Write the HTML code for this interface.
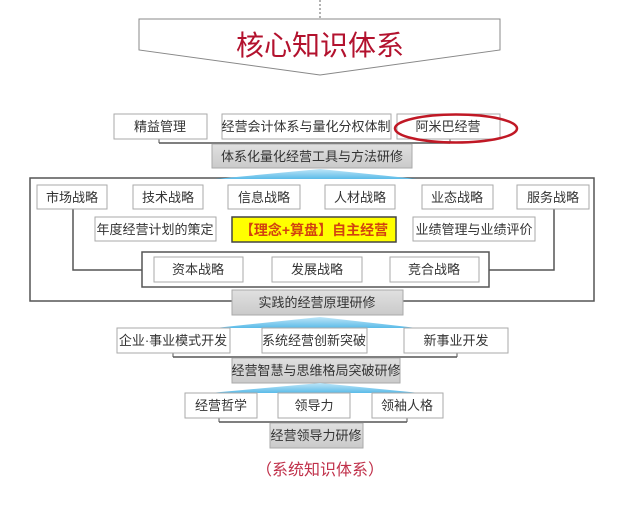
<!DOCTYPE html>
<html><head><meta charset="utf-8"><style>
html,body{margin:0;padding:0;background:#fff;}
svg text{font-family:"Liberation Sans","Noto Sans CJK SC",sans-serif;}
</style></head><body>
<svg width="640" height="507" viewBox="0 0 640 507" xmlns="http://www.w3.org/2000/svg">
<defs>
<linearGradient id="bl" x1="0" y1="1" x2="0" y2="0">
<stop offset="0" stop-color="#5bbbe8"/><stop offset="1" stop-color="#bfe6f8"/>
</linearGradient>
<linearGradient id="gr" x1="0" y1="0" x2="0" y2="1">
<stop offset="0" stop-color="#e0e0e0"/><stop offset="1" stop-color="#cacaca"/>
</linearGradient>
</defs>
<line x1="320" y1="0" x2="320" y2="19" stroke="#666" stroke-dasharray="2,2"/>
<polygon points="139,19 500,19 500,50 320,75 139,50" fill="#fff" stroke="#888" stroke-width="1"/>
<text x="320" y="55" font-size="28" fill="#b3122e" text-anchor="middle">核心知识体系</text>

<g font-size="13" fill="#333" text-anchor="middle">
<line x1="159" y1="139" x2="159" y2="143" stroke="#555"/>
<line x1="159" y1="143" x2="450" y2="143" stroke="#555" stroke-width="1.5"/>
<line x1="450" y1="139" x2="450" y2="143" stroke="#555"/>
<rect x="114" y="114" width="93" height="25" fill="#fff" stroke="#aaa"/><text x="160" y="131">精益管理</text>
<rect x="222" y="114" width="169" height="25" fill="#fff" stroke="#aaa"/><text x="306" y="131">经营会计体系与量化分权体制</text>
<rect x="397" y="114" width="103" height="25" fill="#fff" stroke="#aaa"/><text x="448" y="131">阿米巴经营</text>
<ellipse cx="456" cy="128.5" rx="61" ry="14" fill="none" stroke="#c01825" stroke-width="2.5"/>
<rect x="212" y="144" width="200" height="24" fill="url(#gr)" stroke="#aaa"/><text x="312" y="161">体系化量化经营工具与方法研修</text>

<rect x="30" y="178" width="564" height="123" fill="#fff" stroke="#555" stroke-width="1.5"/>
<polygon points="215,179 320,169 417,179" fill="url(#bl)"/>
<polyline points="73,209 73,270 142,270" fill="none" stroke="#555" stroke-width="1.5"/>
<polyline points="554,209 554,270 489,270" fill="none" stroke="#555" stroke-width="1.5"/>
<rect x="37" y="185" width="70" height="24" fill="#fff" stroke="#aaa"/><text x="72" y="202">市场战略</text>
<rect x="133" y="185" width="70" height="24" fill="#fff" stroke="#aaa"/><text x="168" y="202">技术战略</text>
<rect x="228" y="185" width="72" height="24" fill="#fff" stroke="#aaa"/><text x="264" y="202">信息战略</text>
<rect x="325" y="185" width="70" height="24" fill="#fff" stroke="#aaa"/><text x="360" y="202">人材战略</text>
<rect x="422" y="185" width="71" height="24" fill="#fff" stroke="#aaa"/><text x="457" y="202">业态战略</text>
<rect x="517" y="185" width="72" height="24" fill="#fff" stroke="#aaa"/><text x="553" y="202">服务战略</text>
<rect x="95" y="217" width="121" height="24" fill="#fff" stroke="#aaa"/><text x="155" y="234">年度经营计划的策定</text>
<rect x="232" y="217" width="164" height="25" fill="#ffff00" stroke="#444" stroke-width="1.5"/><text x="314" y="235" fill="#d2420f" font-size="14" font-weight="bold">【理念+算盘】自主经营</text>
<rect x="413" y="217" width="122" height="24" fill="#fff" stroke="#aaa"/><text x="474" y="234">业绩管理与业绩评价</text>
<rect x="142" y="252" width="347" height="35" fill="#fff" stroke="#555" stroke-width="1.5"/>
<rect x="154" y="257" width="89" height="25" fill="#fff" stroke="#aaa"/><text x="198" y="274">资本战略</text>
<rect x="272" y="257" width="90" height="25" fill="#fff" stroke="#aaa"/><text x="317" y="274">发展战略</text>
<rect x="390" y="257" width="89" height="25" fill="#fff" stroke="#aaa"/><text x="434" y="274">竞合战略</text>
<rect x="232" y="290" width="171" height="25" fill="url(#gr)" stroke="#aaa"/><text x="317" y="307">实践的经营原理研修</text>

<polygon points="215,328 320,317 417,328" fill="url(#bl)"/>
<line x1="173" y1="353" x2="173" y2="357" stroke="#555"/>
<line x1="173" y1="357" x2="457" y2="357" stroke="#555" stroke-width="1.5"/>
<line x1="457" y1="353" x2="457" y2="357" stroke="#555"/>
<rect x="117" y="328" width="113" height="25" fill="#fff" stroke="#aaa"/><text x="173" y="345">企业·事业模式开发</text>
<rect x="262" y="328" width="105" height="25" fill="#fff" stroke="#aaa"/><text x="314" y="345">系统经营创新突破</text>
<rect x="404" y="328" width="104" height="25" fill="#fff" stroke="#aaa"/><text x="456" y="345">新事业开发</text>
<rect x="232" y="358" width="168" height="25" fill="url(#gr)" stroke="#aaa"/><text x="316" y="375">经营智慧与思维格局突破研修</text>

<polygon points="210,393 320,383 420,393" fill="url(#bl)"/>
<line x1="219" y1="418" x2="219" y2="422" stroke="#555"/>
<line x1="219" y1="422" x2="407" y2="422" stroke="#555" stroke-width="1.5"/>
<line x1="407" y1="418" x2="407" y2="422" stroke="#555"/>
<rect x="185" y="393" width="72" height="25" fill="#fff" stroke="#aaa"/><text x="221" y="410">经营哲学</text>
<rect x="278" y="393" width="72" height="25" fill="#fff" stroke="#aaa"/><text x="314" y="410">领导力</text>
<rect x="372" y="393" width="71" height="25" fill="#fff" stroke="#aaa"/><text x="407" y="410">领袖人格</text>
<rect x="270" y="423" width="93" height="25" fill="url(#gr)" stroke="#aaa"/><text x="316" y="440">经营领导力研修</text>
</g>
<text x="320" y="475" font-size="16" fill="#c0304a" text-anchor="middle">（系统知识体系）</text>
</svg>
</body></html>
